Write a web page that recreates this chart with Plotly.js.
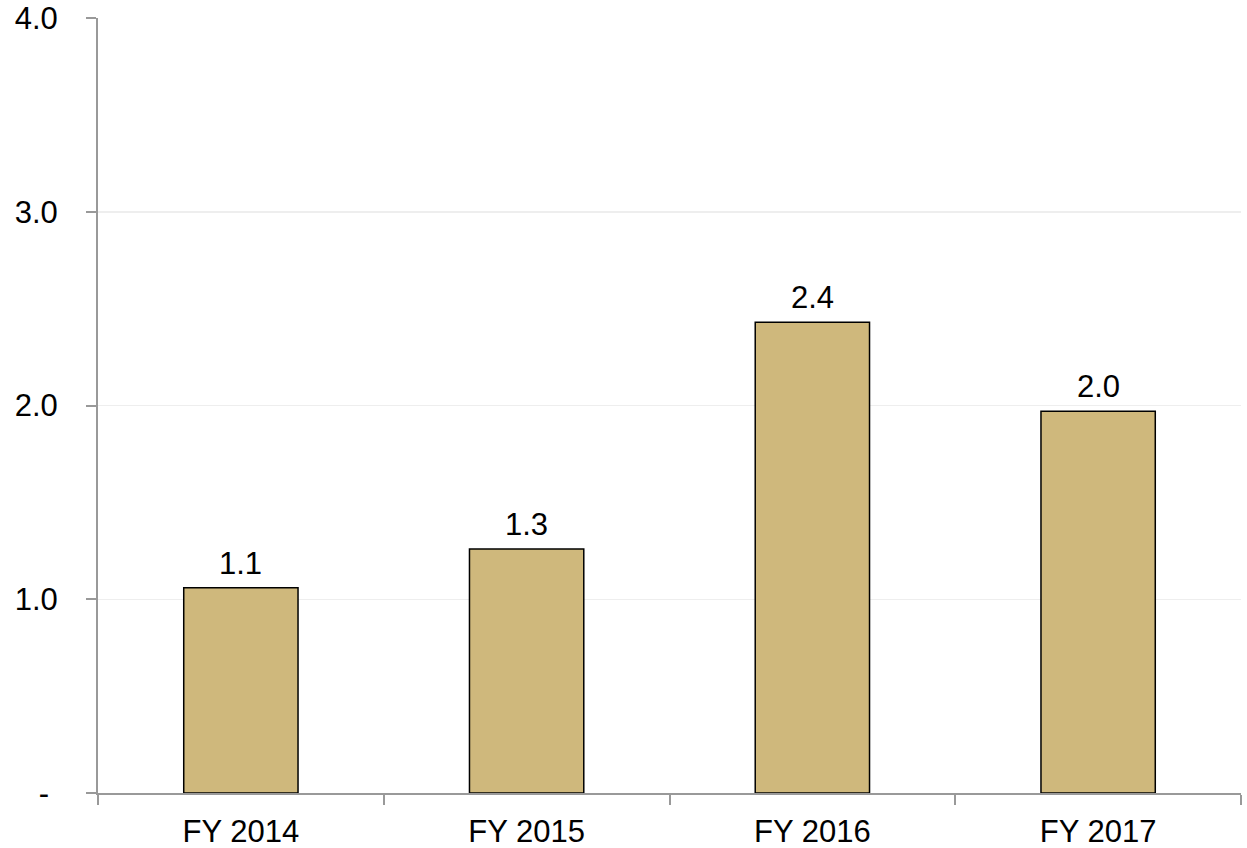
<!DOCTYPE html>
<html>
<head>
<meta charset="utf-8">
<script src="https://cdn.plot.ly/plotly-3.0.1.min.js"></script>
<style>
  html, body { margin: 0; padding: 0; background: #fff; }
  #plot { width: 1247px; height: 848px; }
</style>
</head>
<body>
<div id="plot"></div>
<script>
// chart data
const years = ['FY 2014', 'FY 2015', 'FY 2016', 'FY 2017'];
const values = [1.06, 1.26, 2.43, 1.97];
const yTickVals = [0, 1, 2, 3, 4];
const yTickText = ['-\u00a0', '1.0', '2.0', '3.0', '4.0'];

const font = 'Liberation Sans, Arial, Helvetica, sans-serif';

const trace = {
    type: 'bar',
    x: years,
    y: values,
    marker: {
        color: '#CFB87C',
        line: { color: '#000000', width: 1.5 }
    },
    hoverinfo: 'none'
};

// value labels above the bars
const labels = years.map((yr, i) => ({
    x: yr,
    y: values[i],
    text: values[i].toFixed(1),
    showarrow: false,
    yanchor: 'bottom',
    yshift: 5,
    font: { family: font, size: 31, color: '#000' }
}));

const layout = {
    width: 1247,
    height: 848,
    margin: { l: 98, r: 6, t: 18, b: 55 },
    paper_bgcolor: '#fff',
    plot_bgcolor: '#fff',
    showlegend: false,
    bargap: 0.6,
    font: { family: font, size: 31, color: '#000' },
    annotations: labels,
    xaxis: {
        type: 'category',
        showline: true,
        linecolor: '#999999',
        linewidth: 2,
        ticks: 'outside',
        tickson: 'boundaries',
        ticklen: 10,
        tickwidth: 2,
        tickcolor: '#999999',
        ticklabelstandoff: 10,
        showgrid: false,
        zeroline: false,
        tickfont: { family: font, size: 31, color: '#000' }
    },
    yaxis: {
        range: [0, 4],
        tickvals: yTickVals,
        ticktext: yTickText,
        showline: true,
        linecolor: '#999999',
        linewidth: 2,
        ticks: 'outside',
        ticklen: 10,
        tickwidth: 2,
        tickcolor: '#999999',
        ticklabelstandoff: 22,
        showgrid: true,
        gridcolor: '#eeeeee',
        gridwidth: 1.5,
        zeroline: false,
        tickfont: { family: font, size: 31, color: '#000' }
    }
};

Plotly.newPlot('plot', [trace], layout, { displayModeBar: false, staticPlot: true });
</script>
</body>
</html>
